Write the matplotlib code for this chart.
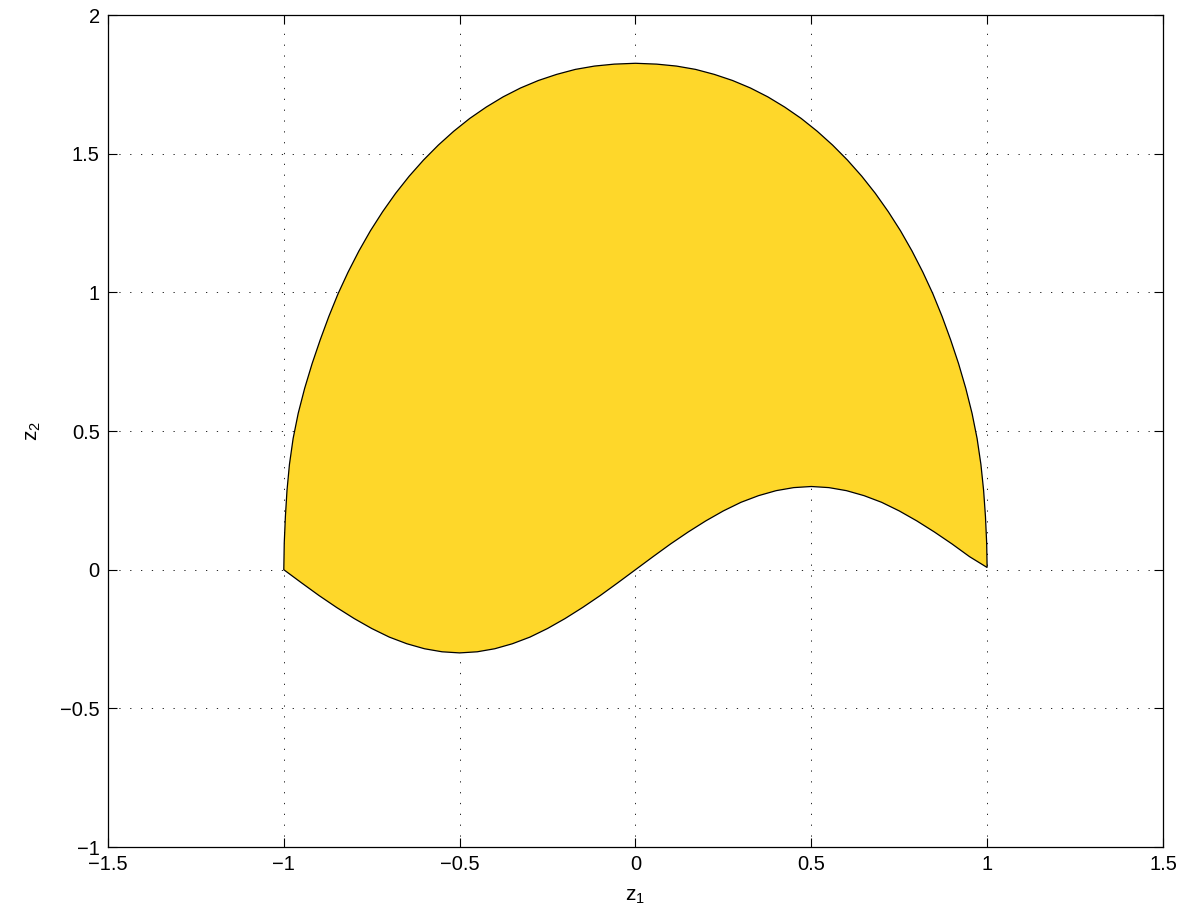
import matplotlib
matplotlib.use('Agg')
import matplotlib.pyplot as plt
import numpy as np

plt.rcParams['font.family'] = ['Liberation Sans', 'DejaVu Sans']
plt.rcParams['mathtext.default'] = 'regular'
plt.rcParams['axes.unicode_minus'] = True

# upper boundary of the region, left to right
upper_z1 = [-1.0000, -0.9987, -0.9955, -0.9909, -0.9839, -0.9735, -0.9590, -0.9407, -0.9195, -0.8964,
            -0.8720, -0.8457, -0.8172, -0.7865, -0.7537, -0.7189, -0.6821, -0.6434, -0.6028, -0.5606,
            -0.5168, -0.4714, -0.4245, -0.3763, -0.3268, -0.2760, -0.2241, -0.1709, -0.1164, -0.0602,
            0.0000, 0.0602, 0.1164, 0.1709, 0.2241, 0.2760, 0.3268, 0.3763, 0.4245, 0.4714,
            0.5168, 0.5606, 0.6028, 0.6434, 0.6821, 0.7189, 0.7537, 0.7865, 0.8172, 0.8457,
            0.8720, 0.8962, 0.9188, 0.9393, 0.9571, 0.9715, 0.9823, 0.9900, 0.9953, 0.9987, 1.0000]
upper_z2 = [0.000, 0.096, 0.191, 0.286, 0.380, 0.473, 0.564, 0.654, 0.743, 0.829,
            0.913, 0.995, 1.073, 1.149, 1.222, 1.291, 1.357, 1.419, 1.477, 1.531,
            1.581, 1.627, 1.668, 1.705, 1.737, 1.764, 1.786, 1.804, 1.816, 1.823,
            1.826, 1.823, 1.816, 1.804, 1.786, 1.764, 1.737, 1.705, 1.668, 1.627,
            1.581, 1.531, 1.477, 1.419, 1.357, 1.291, 1.222, 1.149, 1.073, 0.995,
            0.913, 0.829, 0.743, 0.654, 0.564, 0.473, 0.380, 0.286, 0.191, 0.096, 0.008]

# lower boundary, right to left
lower_z1 = [1.0, 0.95, 0.90, 0.85, 0.80, 0.75, 0.70, 0.65, 0.60, 0.55, 0.50,
            0.45, 0.40, 0.35, 0.30, 0.25, 0.20, 0.15, 0.10, 0.05, 0.0,
            -0.05, -0.10, -0.15, -0.20, -0.25, -0.30, -0.35, -0.40, -0.45, -0.50,
            -0.55, -0.60, -0.65, -0.70, -0.75, -0.80, -0.85, -0.90, -0.95, -1.0]
lower_z2 = [0.008, 0.047, 0.093, 0.136, 0.176, 0.212, 0.243, 0.267, 0.285, 0.296, 0.300,
            0.296, 0.285, 0.267, 0.243, 0.212, 0.176, 0.136, 0.093, 0.047, 0.0,
            -0.047, -0.093, -0.136, -0.176, -0.212, -0.243, -0.267, -0.285, -0.296, -0.300,
            -0.296, -0.285, -0.267, -0.243, -0.212, -0.176, -0.136, -0.093, -0.047, 0.0]

xticks = [-1.5, -1, -0.5, 0, 0.5, 1, 1.5]
yticks = [-1, -0.5, 0, 0.5, 1, 1.5, 2]

fig = plt.figure(figsize=(11.89, 9.22), dpi=100)
ax = fig.add_axes([0.0908, 0.0813, 0.8873, 0.9024])

z1 = np.concatenate([upper_z1, lower_z1])
z2 = np.concatenate([upper_z2, lower_z2])
ax.fill(z1, z2, facecolor='#FED72A', edgecolor='black', linewidth=0.9, zorder=2)

ax.set_xlim(-1.5, 1.5)
ax.set_ylim(-1, 2)
ax.set_xticks(xticks)
ax.set_yticks(yticks)
ax.set_xticklabels(['\u22121.5', '\u22121', '\u22120.5', '0', '0.5', '1', '1.5'])
ax.set_yticklabels(['\u22121', '\u22120.5', '0', '0.5', '1', '1.5', '2'])

ax.set_axisbelow(True)
ax.grid(True, color='black', linewidth=0.6, linestyle=(0, (1.5, 11.5)))

ax.tick_params(direction='in', length=6.5, width=0.8, labelsize=14.5,
               top=True, right=True, pad=6)
for s in ax.spines.values():
    s.set_linewidth(0.9)

ax.set_xlabel('$z_1$', fontsize=15, labelpad=9)
ax.set_ylabel('$z_2$', fontsize=15, labelpad=12)

fig.savefig('out.png', dpi=100)
